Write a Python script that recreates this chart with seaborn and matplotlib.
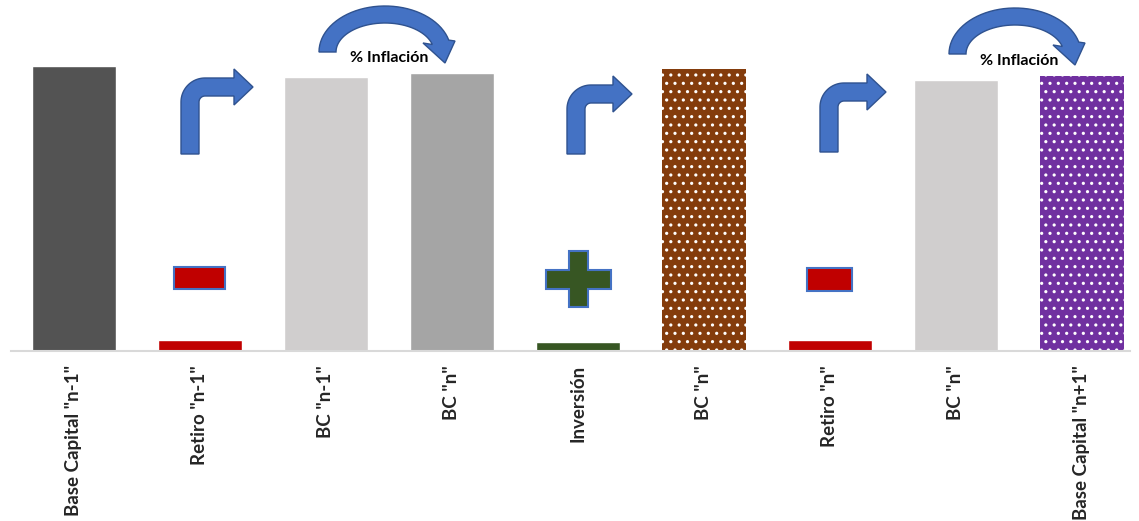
import numpy as np
import pandas as pd
import matplotlib
matplotlib.use("Agg")
import matplotlib.pyplot as plt
import seaborn as sns
from matplotlib.patches import Polygon

# ----------------------------------------------------------------------
# Data
# ----------------------------------------------------------------------
labels = ['Base Capital "n-1"', 'Retiro "n-1"', 'BC "n-1"', 'BC "n"', 'Inversión',
          'BC "n"', 'Retiro "n"', 'BC "n"', 'Base Capital "n+1"']
values = [100, 4, 96, 97.5, 3, 99, 4, 95, 96.5]
colors = ["#535353", "#C00000", "#D0CECE", "#A5A5A5", "#375623",
          "#843C0C", "#C00000", "#D0CECE", "#7030A0"]
dotted = [5, 8]
bent_arrow_at = [1, 4, 6]          # step index where a bent arrow sits
minus_at = [1, 6]
plus_at = [4]
inflation_between = [(2, 3), (7, 8)]
inflation_text = "% Inflación"

# ----------------------------------------------------------------------
# Style
# ----------------------------------------------------------------------
sns.set_theme(style="white")
plt.rcParams["font.family"] = ["Lato", "DejaVu Sans"]
plt.rcParams["hatch.linewidth"] = 1.1

W, H = 1139, 521
fig = plt.figure(figsize=(W / 100, H / 100), dpi=100)
ax = fig.add_axes([11 / W, (H - 351) / H, (1130 - 11) / W, 351 / H])

df = pd.DataFrame({"step": [str(i) for i in range(len(values))], "value": values})
sns.barplot(data=df, x="step", y="value", hue="step",
            palette=dict(zip(df["step"], colors)), legend=False,
            width=0.667, saturation=1, ax=ax)

for i in dotted:
    p = ax.patches[i]
    p.set_hatch("..")
    p.set_edgecolor("white")
    p.set_linewidth(0)

ax.set_xlim(-0.5, 8.381)
ax.set_ylim(0, 123.2)
ax.set_xticks(range(len(labels)))
ax.set_xticklabels(labels, rotation=90, fontsize=13.5, fontweight="bold", va="top")
ax.tick_params(axis="x", length=0, pad=10)
ax.set_yticks([])
ax.set_xlabel("")
ax.set_ylabel("")
for s in ["top", "right", "left"]:
    ax.spines[s].set_visible(False)
ax.spines["bottom"].set_color("#D9D9D9")
ax.spines["bottom"].set_linewidth(1.5)

fig.canvas.draw()


# ----------------------------------------------------------------------
# Shape helpers, in image pixels (y downwards) relative to bar positions
# ----------------------------------------------------------------------
def bar_px(i):
    return ax.transData.transform((i, 0))[0]


def add_shape(pts, fc, ec="#2F528F", lw=1.0):
    pts = np.asarray(pts, float)
    disp = np.column_stack([pts[:, 0], H - pts[:, 1]])
    fig.patches.append(Polygon(disp, closed=True, fc=fc, ec=ec, lw=lw,
                               transform=None, figure=fig, zorder=5))


def bent_arrow(x0, yb, h, length, w=18, t=18, hh=18, head=19, R=24, r=6):
    pts = [(0, 0), (0, h - R)]
    for a in np.linspace(np.pi, np.pi / 2, 20):
        pts.append((R + R * np.cos(a), h - R + R * np.sin(a)))
    hb = length - head
    mid = h - t / 2
    pts += [(hb, h), (hb, mid + hh), (length, mid), (hb, mid - hh),
            (hb, h - t), (w + r, h - t)]
    for a in np.linspace(np.pi / 2, np.pi, 12):
        pts.append((w + r + r * np.cos(a), h - t - r + r * np.sin(a)))
    pts.append((w, 0))
    add_shape([(x0 + px, yb - py) for px, py in pts], "#4472C4")


def arc_arrow(cx, cy, ro=(66, 46), ri=(49, 29), end=np.radians(15)):
    pts = []
    for a in np.linspace(np.pi, end, 40):
        pts.append((ro[0] * np.cos(a), ro[1] * np.sin(a)))
    pts += [(70, 11), (60, -11), (38, 9)]
    for a in np.linspace(end, np.pi, 40):
        pts.append((ri[0] * np.cos(a), ri[1] * np.sin(a)))
    add_shape([(cx + px, cy - py) for px, py in pts], "#4472C4")


def rect(cx, cy, w, h):
    return [(cx - w / 2, cy - h / 2), (cx + w / 2, cy - h / 2),
            (cx + w / 2, cy + h / 2), (cx - w / 2, cy + h / 2)]


# bent arrows: (offset from bar centre, bottom, height, length)
bent_geom = [(-19, 154, 76, 72), (-11, 154, 69, 65), (-10, 152, 69, 66)]
for i, (dx, yb, h, length) in zip(bent_arrow_at, bent_geom):
    bent_arrow(bar_px(i) + dx, yb, h, length)

# minus signs
minus_geom = [(0, 277.5, 51, 22), (0, 279.5, 45, 23)]
for i, (dx, cy, w, h) in zip(minus_at, minus_geom):
    add_shape(rect(bar_px(i) + dx, cy, w, h), "#C00000", ec="#4472C4", lw=1.5)

# plus sign
for i in plus_at:
    cx, cy = bar_px(i) + 1, 279
    a, b = 9.5, 32.5
    top, bot = 251, 307
    plus = [(cx - a, top), (cx + a, top), (cx + a, cy - a), (cx + b, cy - a),
            (cx + b, cy + a), (cx + a, cy + a), (cx + a, bot), (cx - a, bot),
            (cx - a, cy + a), (cx - b, cy + a), (cx - b, cy - a), (cx - a, cy - a)]
    add_shape(plus, "#375623", ec="#4472C4", lw=1.5)

# inflation arcs with label
for (i, j), (cy, ty) in zip(inflation_between, [(52, 58), (54, 61)]):
    mid = (bar_px(i) + bar_px(j)) / 2
    arc_arrow(mid - 4, cy)
    fig.text(mid / W, 1 - ty / H, inflation_text, ha="center", va="center",
             fontsize=11.5, fontweight="bold", color="black", zorder=6)

fig.savefig("out.png", dpi=100)
